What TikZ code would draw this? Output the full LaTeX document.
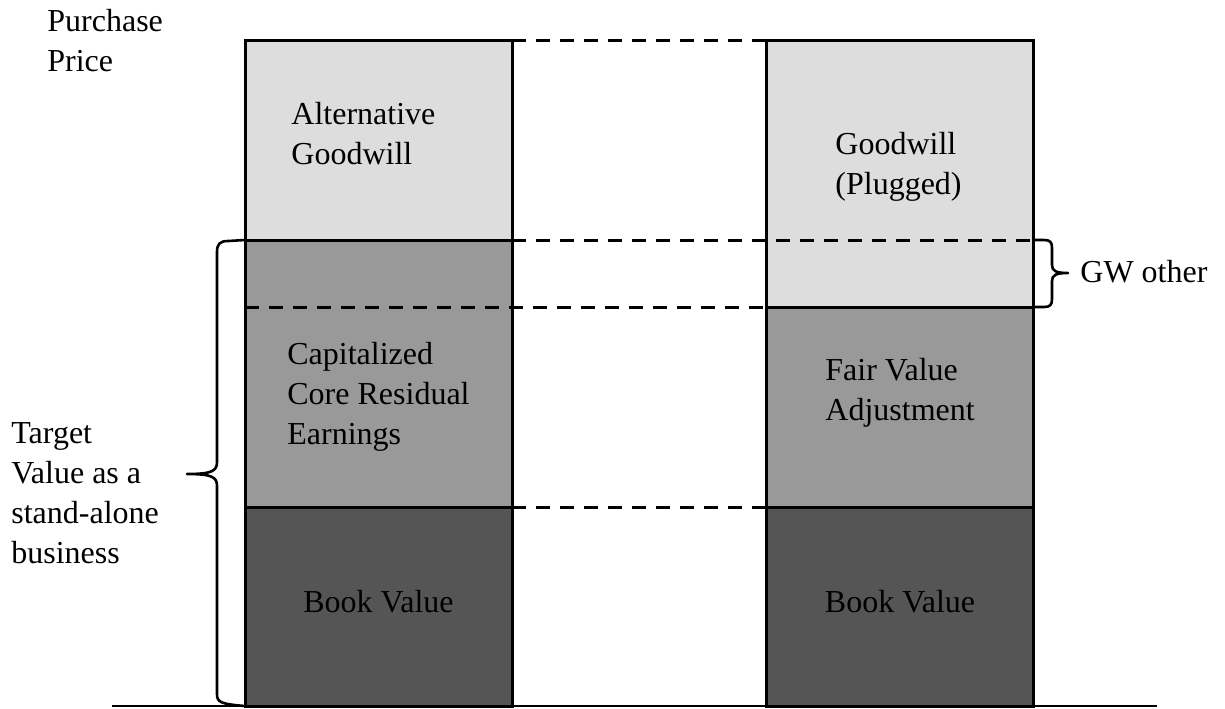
\documentclass[tikz,border=0pt]{standalone}
\usepackage{fontspec}
\setmainfont{Liberation Serif}
\usepackage{xcolor}
\usetikzlibrary{positioning,calc}
\definecolor{fillLt}{HTML}{DDDDDD}
\definecolor{fillMd}{HTML}{999999}
\definecolor{fillDk}{HTML}{555555}

\begin{document}
\begin{tikzpicture}[x=0.5pt, y=-0.5pt,
  seg/.style={draw=black, line width=1.5pt, minimum width=133.5pt,
              inner sep=0pt, outer sep=0pt},
  link/.style={line width=1.5pt, dash pattern=on 7pt off 5pt},
  curly/.style={line width=1.3pt, line join=round},
  txt/.style={anchor=west, align=left, inner sep=0pt,
              font=\fontsize{16pt}{20pt}\selectfont}]
  \useasboundingbox (0,0) rectangle (1225,708);

  \coordinate (axL) at (112,706);
  \coordinate (axR) at (1157,706);
  \draw[line width=1pt] (axL) -- (axR);

  % target as a stand-alone business
  \node[seg, fill=fillLt, minimum height=100pt] (altgw) at (378.5,140) {};
  \node[seg, fill=fillMd, minimum height=133.5pt, below=0pt of altgw] (core) {};
  \node[seg, fill=fillDk, minimum height=99.5pt, below=0pt of core] (bookL) {};

  % purchase accounting
  \node[seg, fill=fillLt, minimum height=133.5pt] (plug) at (900,173.5) {};
  \node[seg, fill=fillMd, minimum height=100pt, below=0pt of plug] (fva) {};
  \node[seg, fill=fillDk, minimum height=99.5pt, below=0pt of fva] (bookR) {};

  \draw[link] (altgw.north east) -- (plug.north west);
  \draw[link] (altgw.south east) -- (plug.east |- altgw.south);
  \draw[link] (core.west |- plug.south) -- (plug.south west);
  \draw[link] (core.south east) -- (fva.south west);

  % braces
  \coordinate (tvTip) at (187,474);
  \coordinate (gwTip) at (1068,273);
  \draw[curly] (core.north west) -- (228,241)
    .. controls (220,241) and (217,244) .. (217,252) -- (217,462)
    .. controls (217,471) and (212,474) .. (tvTip)
    .. controls (212,474) and (217,477) .. (217,486) -- (217,694)
    .. controls (217,702) and (220,704) .. (bookL.south west);
  \draw[curly] (plug.east |- altgw.south) -- (1044,240)
    .. controls (1050,240) and (1052,242) .. (1052,248) -- (1052,265)
    .. controls (1052,271) and (1056,273) .. (gwTip)
    .. controls (1056,273) and (1052,275) .. (1052,281) -- (1052,299)
    .. controls (1052,305) and (1050,307) .. (1044,307) -- (plug.south east);

  \node[txt] (price) at (47,41) {Purchase\\Price};
  \node[txt] (tv) at (11,493) {Target\\Value as a\\stand-alone\\business};
  \node[txt] (altTxt) at (291,133.5) {Alternative\\Goodwill};
  \node[txt] (coreTxt) at (287,396.5) {Capitalized\\Core Residual\\Earnings};
  \node[txt, anchor=center] (bvL) at (378.5,602) {Book Value};
  \node[txt] (plugTxt) at (835,167) {Goodwill\\(Plugged)};
  \node[txt] (fvaTxt) at (825,392.5) {Fair Value\\Adjustment};
  \node[txt, anchor=center] (bvR) at (900,602) {Book Value};
  \node[txt] (gwo) at (1080,272) {GW other};
\end{tikzpicture}
\end{document}
